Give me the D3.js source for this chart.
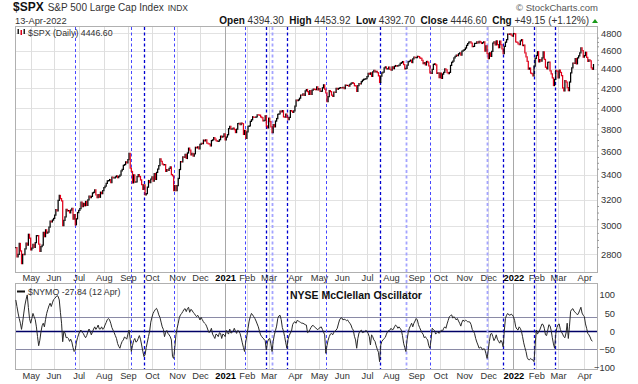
<!DOCTYPE html>
<html>
<head>
<meta charset="utf-8">
<script src="https://d3js.org/d3.v7.min.js"></script>
<style>
  body { margin: 0; background: #fff; }
  text { font-family: "Liberation Sans", Arial, sans-serif; }
</style>
</head>
<body>
<script>
// ---- data ----
var firstDay = "2020-04-14", lastDay = "2022-04-13";
var holidays = ["2020-05-25","2020-07-03","2020-09-07","2020-11-26","2020-12-25",
  "2021-01-01","2021-01-18","2021-02-15","2021-04-02","2021-05-31","2021-07-05",
  "2021-09-06","2021-11-25","2021-12-24","2022-01-17","2022-02-21"];

// $SPX daily closes, one row per month
var spxClose = [
  2846,2783,2800,2875,2823,2737,2799,2798,2837,2878,2863,2940,2912,
  2831,2843,2868,2848,2881,2930,2930,2870,2820,2853,2864,2954,2923,2972,2949,2955,2992,3036,3030,3044,
  3056,3081,3123,3112,3194,3232,3207,3190,3002,3041,3067,3125,3113,3115,3098,3118,3131,3050,3084,3009,3053,3100,
  3116,3130,3180,3145,3170,3152,3185,3155,3198,3227,3216,3225,3252,3257,3276,3236,3216,3239,3218,3258,3246,3271,
  3295,3307,3328,3349,3351,3360,3334,3380,3373,3373,3382,3390,3375,3386,3397,3431,3444,3479,3485,3508,3500,
  3527,3581,3455,3427,3332,3399,3339,3341,3384,3401,3385,3357,3319,3281,3316,3237,3247,3298,3352,3335,3363,
  3381,3348,3409,3361,3419,3447,3477,3534,3512,3489,3483,3484,3427,3443,3436,3453,3465,3401,3391,3271,3310,3270,
  3310,3369,3443,3510,3509,3550,3546,3573,3537,3585,3627,3610,3568,3582,3558,3578,3635,3630,3638,3622,
  3662,3669,3667,3699,3692,3702,3673,3668,3663,3647,3695,3701,3722,3709,3695,3687,3690,3703,3735,3727,3732,3756,
  3701,3727,3748,3804,3825,3800,3801,3810,3796,3768,3799,3852,3853,3841,3855,3850,3751,3787,3714,
  3774,3826,3830,3872,3887,3916,3911,3910,3916,3935,3933,3931,3914,3907,3877,3881,3925,3829,3811,
  3902,3870,3820,3768,3842,3821,3875,3899,3939,3943,3969,3963,3974,3915,3913,3941,3911,3889,3910,3975,3971,3959,3973,
  4020,4078,4074,4080,4097,4129,4128,4142,4125,4170,4185,4163,4135,4173,4135,4180,4188,4187,4183,4211,4181,
  4193,4165,4168,4202,4233,4188,4152,4063,4113,4174,4163,4128,4116,4159,4156,4197,4188,4196,4201,4204,
  4202,4208,4193,4230,4227,4227,4220,4239,4247,4255,4247,4224,4222,4166,4225,4246,4242,4266,4281,4291,4292,4298,
  4320,4352,4344,4358,4321,4370,4385,4369,4374,4360,4327,4258,4323,4359,4367,4412,4422,4401,4401,4419,4395,
  4387,4423,4403,4429,4437,4432,4437,4442,4461,4468,4480,4448,4400,4406,4442,4480,4486,4496,4470,4509,4529,4523,
  4524,4537,4535,4520,4514,4493,4459,4469,4443,4481,4474,4433,4358,4354,4396,4449,4455,4443,4353,4359,4308,
  4357,4300,4346,4364,4400,4391,4361,4351,4364,4438,4471,4486,4520,4536,4550,4545,4566,4575,4552,4596,4605,
  4614,4631,4661,4680,4698,4702,4685,4647,4649,4683,4683,4701,4689,4705,4698,4683,4691,4701,4595,4655,4567,
  4513,4577,4538,4592,4687,4701,4667,4712,4669,4634,4710,4669,4621,4568,4649,4697,4726,4791,4786,4793,4779,4766,
  4797,4794,4701,4696,4677,4670,4713,4726,4659,4663,4577,4533,4483,4398,4410,4356,4350,4327,4432,4516,
  4547,4589,4477,4501,4484,4522,4587,4504,4419,4402,4471,4475,4380,4349,4305,4226,4289,4385,4374,
  4306,4387,4363,4329,4201,4171,4278,4260,4204,4173,4262,4358,4412,4463,4461,4512,4456,4520,4543,4576,4632,4602,4530,
  4546,4583,4525,4481,4500,4488,4413,4397,4447
];

// $NYMO daily values (ends 12 Apr)
var nymo = [
  86,68,50,35,22,5,25,50,72,88, 100,65,35,22,35,49,40,32,12,-15,
  -40,-25,-2,15,22,12,32,49,60,70, 77,68,78,87,90,94,98,96,86,52,
  22,-29,0,-5,-18,-17,-20,-28,-22,-30, -45,-56,-52,-30,-18,-8,0,3,-3,-6,
  -13,-18,-12,-2,6,0,-10,-2,6,12, 5,10,17,6,6,12,5,8,17,24,
  32,35,31,22,10,3,-4,-12,-20,-34, -42,-47,-36,-28,-24,-16,-18,-22,-8,3,
  -22,-56,-40,-26,-20,-30,-28,-20,-12,-22, -38,-55,-70,-65,-45,-30,-15,0,25,38,
  49,55,60,63,56,45,38,25,12,5, -15,-3,2,-6,-10,-15,-24,-70,-75,-45,
  -10,8,22,38,45,49,54,60,62,54, 62,66,52,60,58,52,49,44,40,44,
  38,31,38,32,26,22,19,12,3,-4, 0,8,-8,-14,-20,-8,-10,-15,-4,-6,
  -20,-8,-10,-15,2,-4,-8,6,-5,-4, 0,8,0,-6,2,0,-6,-18,-32,-45,
  -56,-30,-12,8,28,40,49,45,40,35, 28,20,12,0,-10,-15,-19,-22,-26,-52,
  -30,-22,-20,-35,-56,-28,-10,2,14,35, 42,44,32,10,0,-15,-32,-47,-22,-12,
  -5,0,18,24,26,22,30,28,26,24, 22,22,20,18,17,-4,-2,4,10,15,
  16,12,10,6,4,8,10,12,5,-2, -10,-61,-40,-25,-15,-8,-6,-10,-3,0,
  3,8,20,31,36,37,31,33,32,29, 31,26,22,17,8,3,-14,-24,-47,-20,
  -5,0,3,-4,-3,-1,2,0,-6,-15, -38,-10,-15,-24,-28,-40,-50,-58,-84,-38,
  -28,-24,-20,-17,-8,-1,2,3,8,4, 5,12,17,14,8,12,8,3,-12,-33,
  -45,-56,-24,-4,8,15,22,12,22,28, 35,31,18,10,3,-4,-8,-18,-15,-20,
  -24,-40,-47,-24,8,5,2,-8,-4,-1, -6,-2,3,0,8,12,8,20,30,40,
  43,45,36,40,36,31,35,28,22,14, 25,31,27,30,29,26,26,25,18,5,
  0,-6,-20,-30,-38,-47,-44,-45,-52,-48, -50,-62,-75,-52,-28,-8,-6,-15,-26,-20,
  -10,-22,-28,-33,-25,-30,-43,0,35,44, 49,45,44,47,45,40,30,12,6,3,
  12,8,0,-15,-32,-45,-56,-72,-78,-79, -75,-78,-79,-84,-38,3,-8,-2,3,12,
  20,18,8,-10,-12,3,18,15,2,-18, -35,-47,-8,10,18,20,5,-2,-8,-15,
  -18,-5,22,-20,14,55,60,62,55,52, 49,45,50,58,66,50,44,40,20,8,
  -6,-10,-16,-24,-27.84
];

var priceTicks = [2800,3000,3200,3400,3600,3800,4000,4200,4400,4600,4800];
var nymoTicks = [100,50,0,-50,-100];
var nymoBands = [40,-50];
var monthNames = ["Jan","Feb","Mar","Apr","May","Jun","Jul","Aug","Sep","Oct","Nov","Dec"];
// dated vertical markers and how strong each is drawn (1 light, 2 mid, 3 dark)
var markerDates = ["2020-06-26","2020-09-04","2020-09-22","2020-10-28","2021-01-28","2021-02-25",
  "2021-03-04","2021-03-23","2021-05-11","2021-07-19","2021-08-19","2021-09-20",
  "2021-11-30","2021-12-20","2022-01-28","2022-02-24"];
var markerKind = [2,2,3,2,2,3,1,3,2,3,1,2,1,3,3,3];

// ---- trading calendar ----
var days = [];
var d = new Date(firstDay + "T00:00:00Z"), end = new Date(lastDay + "T00:00:00Z");
while (d <= end) {
  var wd = d.getUTCDay(), iso = d.toISOString().slice(0, 10);
  if (wd > 0 && wd < 6 && holidays.indexOf(iso) < 0) days.push(iso);
  d.setUTCDate(d.getUTCDate() + 1);
}
var monthIdx = [];
for (var i = 1; i < days.length; i++) {
  if (days[i].slice(5, 7) != days[i - 1].slice(5, 7)) monthIdx.push(i);
}
function monthLabel(i) {
  var m = +days[i].slice(5, 7);
  return m == 1 ? days[i].slice(0, 4) : monthNames[m - 1];
}

// ---- layout ----
var main = {left: 15, right: 597, top: 26, bottom: 272};
var low = {left: 15, right: 597, top: 283, bottom: 369};

var svg = d3.select("body").append("svg")
  .attr("width", 638).attr("height", 384).style("display", "block");

var x = d3.scaleLinear().domain([0, days.length - 1]).range([15.8, 593.5]);
var yP = d3.scaleLog().domain([2800, 4800]).range([254.3, 33.3]);
var yN = d3.scaleLinear().domain([-100, 100]).range([367.5, 294.9]);
function px(v) { return Math.round(v) + 0.5; }

// panel backgrounds
[main, low].forEach(function(p) {
  svg.append("rect").attr("x", p.left + 0.5).attr("y", p.top + 0.5)
    .attr("width", p.right - p.left).attr("height", p.bottom - p.top)
    .attr("fill", "#fff");
});

// horizontal grid, price panel
svg.append("g").selectAll("line").data(priceTicks).join("line")
  .attr("x1", main.left).attr("x2", main.right)
  .attr("y1", function(v) { return px(yP(v)); }).attr("y2", function(v) { return px(yP(v)); })
  .attr("stroke", "#e2e2e2");

// vertical month grid, both panels
[main, low].forEach(function(p) {
  svg.append("g").selectAll("line").data(monthIdx).join("line")
    .attr("x1", function(i) { return px(x(i)); }).attr("x2", function(i) { return px(x(i)); })
    .attr("y1", p.top).attr("y2", p.bottom)
    .attr("stroke", function(i) { return days[i].slice(5, 7) == "01" ? "#a8a8a8" : "#dedede"; });
});

// nymo reference lines
svg.append("g").selectAll("line").data(nymoBands).join("line")
  .attr("x1", low.left).attr("x2", low.right)
  .attr("y1", function(v) { return px(yN(v)); }).attr("y2", function(v) { return px(yN(v)); })
  .attr("stroke", "#8a8aa6").attr("stroke-width", 1.2);
svg.append("line")
  .attr("x1", low.left).attr("x2", low.right)
  .attr("y1", px(yN(0))).attr("y2", px(yN(0)))
  .attr("stroke", "#000066").attr("stroke-width", 1.3);

// panel borders
[main, low].forEach(function(p) {
  svg.append("rect").attr("x", p.left + 0.5).attr("y", p.top + 0.5)
    .attr("width", p.right - p.left).attr("height", p.bottom - p.top)
    .attr("fill", "none").attr("stroke", "#b0b0b0");
});

// dashed date markers
var mk = markerDates.map(function(dt, k) { return {i: days.indexOf(dt), k: markerKind[k]}; });
svg.append("g").selectAll("line").data(mk).join("line")
  .attr("x1", function(m) { return px(x(m.i)); }).attr("x2", function(m) { return px(x(m.i)); })
  .attr("y1", main.top + 1).attr("y2", low.bottom)
  .attr("stroke", function(m) { return m.k == 1 ? "#a4a4ff" : m.k == 2 ? "#4646ff" : "#0000d0"; })
  .attr("stroke-width", function(m) { return m.k == 1 ? 1.8 : m.k == 2 ? 1 : 1.3; })
  .attr("stroke-dasharray", "3,2.5");

// price bars: prior close to close, black up, red down
svg.append("g").selectAll("line").data(d3.range(spxClose.length)).join("line")
  .attr("x1", function(i) { return x(i); }).attr("x2", function(i) { return x(i); })
  .attr("y1", function(i) { return yP(spxClose[i > 0 ? i - 1 : i]); })
  .attr("y2", function(i) { return yP(spxClose[i]); })
  .attr("stroke", function(i) { return i > 0 && spxClose[i] < spxClose[i - 1] ? "#e0001a" : "#000"; })
  .attr("stroke-width", 1.25).attr("stroke-linecap", "square");

// nymo line
svg.append("path").datum(nymo)
  .attr("d", d3.line().x(function(v, i) { return x(i); }).y(function(v) { return yN(v); }))
  .attr("fill", "none").attr("stroke", "#2a2a2a").attr("stroke-width", 1);

// ---- axes ----
function styleAxis(g) {
  g.attr("font-family", "'Liberation Sans', Arial, sans-serif").attr("font-size", 9.3);
  g.select(".domain").remove();
  g.selectAll("text").attr("fill", "#333");
}
svg.append("g").attr("transform", "translate(597,0)")
  .call(d3.axisRight(yP).tickValues(priceTicks).tickSize(0).tickPadding(4).tickFormat(d3.format("d")))
  .call(styleAxis);
var minor = d3.range(2850, 4800, 50).filter(function(v) { return priceTicks.indexOf(v) < 0; });
svg.append("g").attr("transform", "translate(597,0)")
  .call(d3.axisRight(yP).tickValues(minor).tickSize(2).tickFormat(""))
  .call(function(g) { g.select(".domain").remove(); g.selectAll("line").attr("stroke", "#999"); });
svg.append("g").attr("transform", "translate(597,0)")
  .call(d3.axisRight(yN).tickValues(nymoTicks).tickSize(0).tickPadding(18))
  .call(styleAxis)
  .selectAll("text").attr("text-anchor", "end");

[main.bottom, low.bottom].forEach(function(yb, k) {
  svg.append("g").attr("transform", "translate(0," + yb + ")")
    .call(d3.axisBottom(x).tickValues(monthIdx).tickSize(0).tickPadding(k ? 3 : 2).tickFormat(monthLabel))
    .call(styleAxis)
    .selectAll("text")
    .attr("font-weight", function(i) { return days[i].slice(5, 7) == "01" ? "bold" : null; })
    .attr("fill", function(i) { return days[i].slice(5, 7) == "01" ? "#000" : "#333"; });
});

// ---- header and legends ----
var t1 = svg.append("text").attr("x", 13).attr("y", 11).attr("fill", "#111");
t1.append("tspan").attr("font-weight", "bold").attr("font-size", 12).text("$SPX");
t1.append("tspan").attr("dx", 4).attr("font-size", 10).attr("fill", "#333").text("S&P 500 Large Cap Index");
t1.append("tspan").attr("dx", 4).attr("font-size", 8.5).attr("fill", "#333").text("INDX");

svg.append("text").attr("x", 15).attr("y", 24).attr("font-size", 9.3).attr("fill", "#333").text("13-Apr-2022");
svg.append("text").attr("x", 598).attr("y", 11).attr("text-anchor", "end")
  .attr("font-size", 9.5).attr("fill", "#555").text("\u00a9 StockCharts.com");

var quote = [["Open", "4394.30"], ["High", "4453.92"], ["Low", "4392.70"],
  ["Close", "4446.60"], ["Chg", "+49.15 (+1.12%)"]];
var t2 = svg.append("text").attr("x", 589).attr("y", 24).attr("text-anchor", "end")
  .attr("font-size", 10).attr("fill", "#111").style("white-space", "pre");
quote.forEach(function(q, k) {
  t2.append("tspan").attr("font-weight", "bold").text((k ? "  " : "") + q[0]);
  t2.append("tspan").attr("fill", "#333").text(" " + q[1]);
});
svg.append("path").attr("d", "M592,23L595,19L598,23Z").attr("fill", "#1a9a1a");

// price legend
svg.append("g").selectAll("rect").data([0, 1, 2]).join("rect")
  .attr("x", function(k) { return 17.5 + k * 3; }).attr("y", function(k) { return 29 + (k % 2); })
  .attr("width", 1.5).attr("height", 5)
  .attr("fill", function(k) { return k == 1 ? "#e0001a" : "#222"; });
svg.append("text").attr("x", 28).attr("y", 35.5)
  .attr("font-family", "'DejaVu Sans Mono', monospace").attr("font-size", 8.8).attr("fill", "#333")
  .text("$SPX (Daily) 4446.60");

// nymo legend
svg.append("line").attr("x1", 17).attr("x2", 25).attr("y1", 291.5).attr("y2", 291.5)
  .attr("stroke", "#111").attr("stroke-width", 2);
svg.append("text").attr("x", 28).attr("y", 294.5)
  .attr("font-family", "'DejaVu Sans Mono', monospace").attr("font-size", 8.8).attr("fill", "#333")
  .text("$NYMO -27.84 (12 Apr)");
svg.append("text").attr("x", 290).attr("y", 299)
  .attr("font-weight", "bold").attr("font-size", 10.5).attr("fill", "#111")
  .text("NYSE McClellan Oscillator");
</script>
</body>
</html>
